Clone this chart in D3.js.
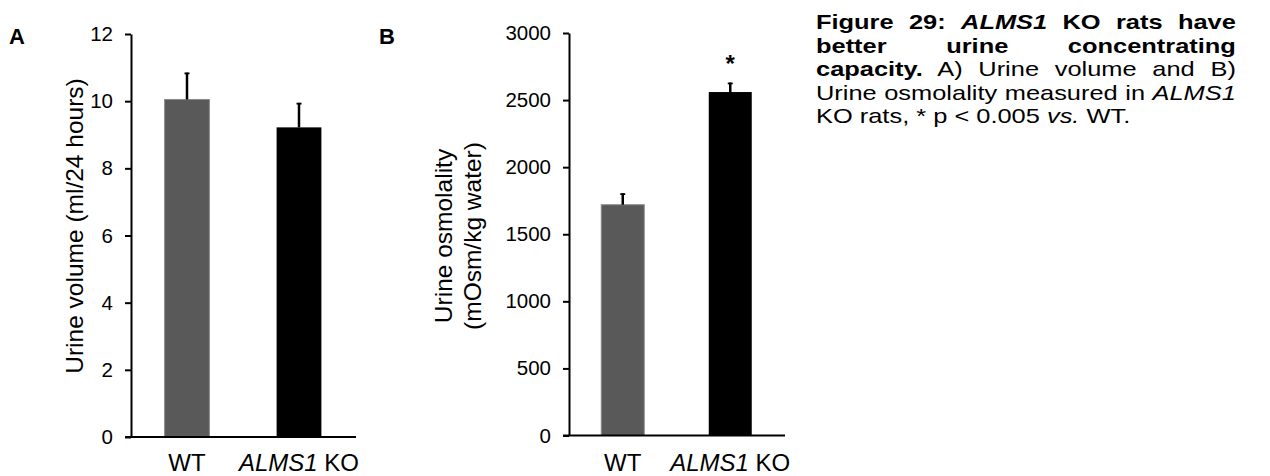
<!DOCTYPE html>
<meta charset="utf-8">
<style>
  body { margin: 0; background: #fff; }
  #chart { position: absolute; left: 0; top: 0; }
  #caption {
    position: absolute;
    left: 816px;
    top: 10px;
    width: 347px;
    font-family: "Liberation Sans", Arial, sans-serif;
    font-size: 21px;
    line-height: 23.5px;
    color: #000;
    transform: scaleX(1.21);
    transform-origin: 0 0;
  }
  #caption .j { text-align: justify; text-align-last: justify; white-space: nowrap; }
  #caption div { white-space: nowrap; }
</style>
<body>
  <svg id="chart" width="1270" height="476"></svg>
  <div id="caption">
    <div class="j"><b>Figure 29: <i>ALMS1</i> KO rats have</b></div>
    <div class="j"><b>better urine concentrating</b></div>
    <div class="j"><b>capacity.</b> A) Urine volume and B)</div>
    <div class="j">Urine osmolality measured in <i>ALMS1</i></div>
    <div>KO rats, * p &lt; 0.005 <i>vs.</i> WT.</div>
  </div>
  <script src="https://d3js.org/d3.v7.min.js"></script>
  <script>

    var groups = ["WT", "ALMS1 KO"];
    var barColors = ["#595959", "#000000"];

    var volume = [10.05, 9.22];
    var volumeErr = [0.8, 0.73];
    var volumeTicks = [0, 2, 4, 6, 8, 10, 12];

    var osmolality = [1720, 2560];
    var osmolalityErr = [85, 70];
    var osmolalityTicks = [0, 500, 1000, 1500, 2000, 2500, 3000];
    var significant = [false, true];

    var font = "'Liberation Sans', Arial, sans-serif";
    var svg = d3.select("#chart");

    function drawPanel(opt) {
      var g = svg.append("g");
      var y = d3.scaleLinear().domain(opt.domain).range([opt.y0, opt.y1]);
      var x = d3.scaleBand().domain(groups).range([opt.x0, opt.x1])
        .paddingInner(0.6).paddingOuter(0.3);

      // bars
      g.selectAll("rect.bar")
        .data(groups)
        .enter().append("rect")
        .attr("class", "bar")
        .attr("x", d => x(d))
        .attr("width", x.bandwidth())
        .attr("y", (d, i) => y(opt.values[i]))
        .attr("height", (d, i) => y(0) - y(opt.values[i]))
        .attr("fill", (d, i) => barColors[i])
        .attr("stroke", (d, i) => i == 0 ? "#8a8a8a" : "none")
        .attr("stroke-width", 1);

      // error bars (upper only)
      var eb = g.selectAll("g.err")
        .data(groups)
        .enter().append("g")
        .attr("class", "err");
      eb.append("line")
        .attr("x1", d => x(d) + x.bandwidth() / 2)
        .attr("x2", d => x(d) + x.bandwidth() / 2)
        .attr("y1", (d, i) => y(opt.values[i]))
        .attr("y2", (d, i) => y(opt.values[i] + opt.errors[i]))
        .attr("stroke", "#000")
        .attr("stroke-width", 2.5);
      eb.append("line")
        .attr("x1", d => x(d) + x.bandwidth() / 2 - 2.5)
        .attr("x2", d => x(d) + x.bandwidth() / 2 + 2.5)
        .attr("y1", (d, i) => y(opt.values[i] + opt.errors[i]) + 0.8)
        .attr("y2", (d, i) => y(opt.values[i] + opt.errors[i]) + 0.8)
        .attr("stroke", "#000")
        .attr("stroke-width", 1.8);

      // significance marks
      if (opt.marks) {
        g.selectAll("text.sig")
          .data(groups.filter((d, i) => opt.marks[i]))
          .enter().append("text")
          .attr("class", "sig")
          .attr("x", d => x(d) + x.bandwidth() / 2)
          .attr("y", d => y(opt.values[groups.indexOf(d)] + opt.errors[groups.indexOf(d)]) - 11)
          .attr("text-anchor", "middle")
          .style("font-family", font)
          .style("font-size", "24px")
          .style("font-weight", "bold")
          .text("*");
      }

      // y axis
      var yAxis = g.append("g")
        .attr("transform", "translate(" + opt.x0 + ",0)")
        .call(d3.axisLeft(y).tickValues(opt.ticks).tickFormat(d3.format("d"))
          .tickSize(6).tickSizeOuter(0).tickPadding(12));
      yAxis.select(".domain").attr("stroke-width", 2);
      yAxis.selectAll(".tick line").attr("stroke-width", 2);
      yAxis.selectAll(".tick text")
        .style("font-family", font)
        .style("font-size", "20.5px")
        .attr("fill", "#000");

      // x axis line
      g.append("line")
        .attr("x1", opt.x0 - 6)
        .attr("x2", opt.x1 + 1)
        .attr("y1", y(0))
        .attr("y2", y(0))
        .attr("stroke", "#000")
        .attr("stroke-width", 2);

      // category labels
      var lab = g.selectAll("text.cat")
        .data(groups)
        .enter().append("text")
        .attr("class", "cat")
        .attr("x", d => x(d) + x.bandwidth() / 2)
        .attr("y", 470.5)
        .attr("text-anchor", "middle")
        .style("font-family", font)
        .style("font-size", "24px");
      lab.each(function(d) {
        var t = d3.select(this);
        if (d == "WT") {
          t.text("WT");
        } else {
          t.append("tspan").style("font-style", "italic").text("ALMS1");
          t.append("tspan").text(" KO");
        }
      });

      // axis title
      var title = g.append("text")
        .attr("transform", "translate(" + opt.titleX + "," + opt.titleY + ") rotate(-90)")
        .attr("text-anchor", "middle")
        .style("font-family", font)
        .style("font-size", "24.5px");
      opt.title.forEach(function(line, i) {
        title.append("tspan")
          .attr("x", 0)
          .attr("dy", i == 0 ? 0 : 29)
          .text(line);
      });

      // panel letter
      g.append("text")
        .attr("x", opt.letterX)
        .attr("y", 44)
        .style("font-family", font)
        .style("font-size", "22px")
        .style("font-weight", "bold")
        .text(opt.letter);
    }

    drawPanel({
      letter: "A", letterX: 9,
      values: volume, errors: volumeErr,
      domain: [0, 12], ticks: volumeTicks,
      x0: 131, x1: 355, y0: 437, y1: 34,
      title: ["Urine volume (ml/24 hours)"], titleX: 83, titleY: 226
    });

    drawPanel({
      letter: "B", letterX: 379,
      values: osmolality, errors: osmolalityErr, marks: significant,
      domain: [0, 3000], ticks: osmolalityTicks,
      x0: 569, x1: 784, y0: 435.5, y1: 33,
      title: ["Urine osmolality", "(mOsm/kg water)"], titleX: 452, titleY: 236
    });
  </script>
</body>
